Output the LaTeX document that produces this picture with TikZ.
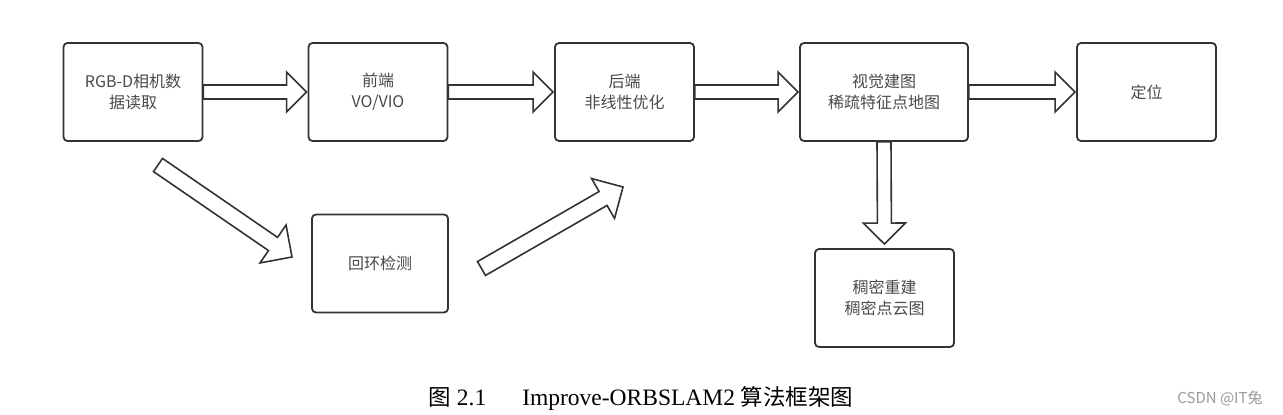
\documentclass[tikz,border=0pt]{standalone}
\usepackage{fontspec}
\setmainfont{Liberation Serif}
\newfontfamily\cjk{Noto Sans CJK SC}
\usetikzlibrary{calc}
\definecolor{boxline}{HTML}{333333}
\definecolor{boxtext}{HTML}{4A4A4A}
\definecolor{wm}{HTML}{9A9A9A}
\newcommand\blockarr[5]{%
  \path ($(#2)!#5pt!(#1)$) coordinate (bh);
  \draw[barrow] ($(#1)!#3pt!90:(#2)$) -- ($(bh)!#3pt!90:(#2)$) -- ($(bh)!#4pt!90:(#2)$) -- (#2)
    -- ($(bh)!#4pt!-90:(#2)$) -- ($(bh)!#3pt!-90:(#2)$) -- ($(#1)!#3pt!-90:(#2)$) -- cycle;
}
\tikzset{
  box/.style={draw=boxline, line width=1.8pt, rounded corners=4pt, fill=white,
    minimum width=139pt, minimum height=98pt, align=center, inner sep=0pt,
    text=boxtext, font=\cjk\fontsize{16}{21}\selectfont},
  barrow/.style={draw=boxline, line width=1.6pt, fill=white, line join=miter},
}
\begin{document}
\begin{tikzpicture}[x=1pt,y=-1pt]
\useasboundingbox (0,0) rectangle (1283,415);
\fill[white] (0,0) rectangle (1283,415);
\node[box] (b1) at (133,92) {RGB-D相机数\\据读取};
\node[box] (b2) at (378,92) {前端\\VO/VIO};
\node[box] (b3) at (624.5,92) {后端\\非线性优化};
\node[box, minimum width=168pt] (b4) at (884,92) {视觉建图\\稀疏特征点地图};
\node[box] (b5) at (1146.5,92) {定位};
\node[box, minimum width=136pt] (b6) at (380,263.5) {回环检测};
\node[box] (b7) at (884.5,298) {稠密重建\\稠密点云图};
% horizontal block arrows
\coordinate (h1a) at (b1.east); \coordinate (h1b) at ($(b2.west)+(-1,0)$);
\coordinate (h2a) at (b2.east); \coordinate (h2b) at ($(b3.west)+(-1,0)$);
\coordinate (h3a) at (b3.east); \coordinate (h3b) at ($(b4.west)+(-1,0)$);
\coordinate (h4a) at (b4.east); \coordinate (h4b) at ($(b5.west)+(-1,0)$);
\blockarr{h1a}{h1b}{7}{20}{20}
\blockarr{h2a}{h2b}{7}{20}{20}
\blockarr{h3a}{h3b}{7}{20}{20}
\blockarr{h4a}{h4b}{7}{20}{20}
% down arrow
\coordinate (v1a) at (b4.south); \coordinate (v1b) at ($(b7.north)+(0,-4)$);
\blockarr{v1a}{v1b}{7}{21}{21}
% diagonal arrows
\coordinate (d1a) at (158,165); \coordinate (d1b) at (292,257);
\blockarr{d1a}{d1b}{8}{23}{23}
\coordinate (d2a) at (481.5,268.5); \coordinate (d2b) at (623,187);
\blockarr{d2a}{d2b}{8}{23}{23}
% caption
\node[font=\fontsize{23.5}{26}\selectfont, inner sep=0pt] (cap) at (641,398)
  {{\cjk\fontsize{22.5}{26}\selectfont 图} 2.1\hspace{36pt}Improve-ORBSLAM2 {\cjk\fontsize{22.5}{26}\selectfont 算法框架图}};
\node[font=\cjk\fontsize{15}{17}\selectfont, text=wm, inner sep=0pt] (wmk) at (1220,398) {CSDN @IT兔};
\end{tikzpicture}
\end{document}
